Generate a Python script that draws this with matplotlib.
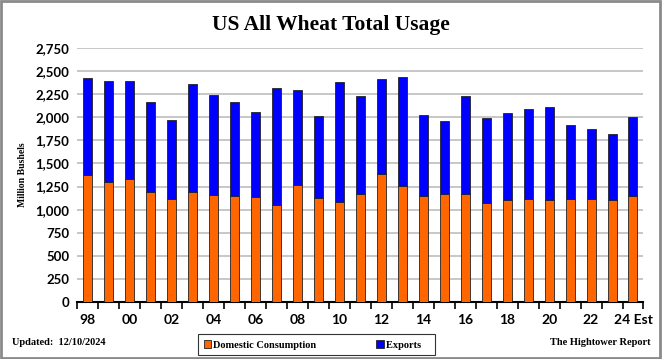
import matplotlib.pyplot as plt
import numpy as np
from matplotlib.patches import Rectangle

# Marketing years 1998/99 .. 2024/25 (million bushels)
years = list(range(1998, 2025))
domestic = [1380, 1301, 1330, 1188, 1112, 1188, 1163, 1148, 1141, 1054,
            1268, 1130, 1080, 1174, 1391, 1261, 1148, 1174, 1174, 1069,
            1105, 1112, 1105, 1112, 1112, 1105, 1148]
total = [2431, 2395, 2395, 2163, 1971, 2362, 2243, 2163, 2054, 2319,
         2293, 2014, 2380, 2232, 2413, 2438, 2025, 1956, 2232, 1989,
         2043, 2094, 2112, 1920, 1877, 1815, 2007]
exports = [t - d for t, d in zip(total, domestic)]
xlabels = [f"{y % 100:02d}" if (y - 1998) % 2 == 0 else "" for y in years]
xlabels[-1] = "24 Est"

fig = plt.figure(figsize=(6.62, 3.59), dpi=100)
ax = fig.add_axes([0.117, 0.159, 0.855, 0.707])

x = np.arange(len(years))
w = 0.43
ax.bar(x, domestic, w, color='#FF6600', edgecolor='#222222', linewidth=0.6,
       label='Domestic Consumption', zorder=3)
ax.bar(x, exports, w, bottom=domestic, color='#0000FF', edgecolor='#222222',
       linewidth=0.6, label='Exports', zorder=3)

ax.set_ylim(0, 2750)
ax.set_xlim(-0.5, len(years) - 0.5)
ax.set_yticks(np.arange(0, 2751, 250))
ax.set_yticklabels([f"{v:,}" for v in range(0, 2751, 250)],
                   fontfamily='Lato', fontweight='bold', fontsize=9.5)
ax.yaxis.grid(True, color='#bdbdbd', linewidth=1.2, zorder=0)
ax.tick_params(axis='y', length=0, pad=6)

# ticks between categories, labels centred under bars
ax.set_xticks(np.arange(-0.5, len(years), 1))
ax.set_xticklabels([])
ax.tick_params(axis='x', which='major', direction='out', length=5, width=1.2)
ax.set_xticks(x, minor=True)
ax.set_xticklabels(xlabels, minor=True, fontfamily='Lato', fontweight='bold',
                   fontsize=10)
ax.tick_params(axis='x', which='minor', length=0, pad=9)

for s in ['top', 'right', 'left']:
    ax.spines[s].set_visible(False)
ax.spines['bottom'].set_linewidth(1.5)

ax.set_ylabel('Million Bushels', fontfamily='Liberation Serif',
              fontweight='bold', fontsize=7, labelpad=6)

fig.text(0.5, 0.93, 'US All Wheat Total Usage', ha='center', va='center',
         fontfamily='Liberation Serif', fontweight='bold', fontsize=15.5)
fig.text(0.018, 0.045, 'Updated:  12/10/2024', ha='left', va='center',
         fontfamily='Liberation Serif', fontweight='bold', fontsize=7.5)
fig.text(0.982, 0.045, 'The Hightower Report', ha='right', va='center',
         fontfamily='Liberation Serif', fontweight='bold', fontsize=7.5)

leg = fig.legend(loc='center', bbox_to_anchor=(0.478, 0.04), ncol=2,
                 frameon=True, fancybox=False, edgecolor='black',
                 prop={'family': 'Liberation Serif', 'weight': 'bold', 'size': 7.5},
                 handlelength=0.7, handleheight=0.9, columnspacing=5,
                 borderpad=0.55, handletextpad=0.2, borderaxespad=0)
leg.get_frame().set_linewidth(0.8)
for t in leg.get_texts():
    t.set_text(t.get_text() + '   ')

fig.patches.append(Rectangle((0.002, 0.003), 0.995, 0.993,
                             transform=fig.transFigure, fill=False,
                             edgecolor='#8a8a8a', linewidth=2))

fig.savefig('out.png', dpi=100)
